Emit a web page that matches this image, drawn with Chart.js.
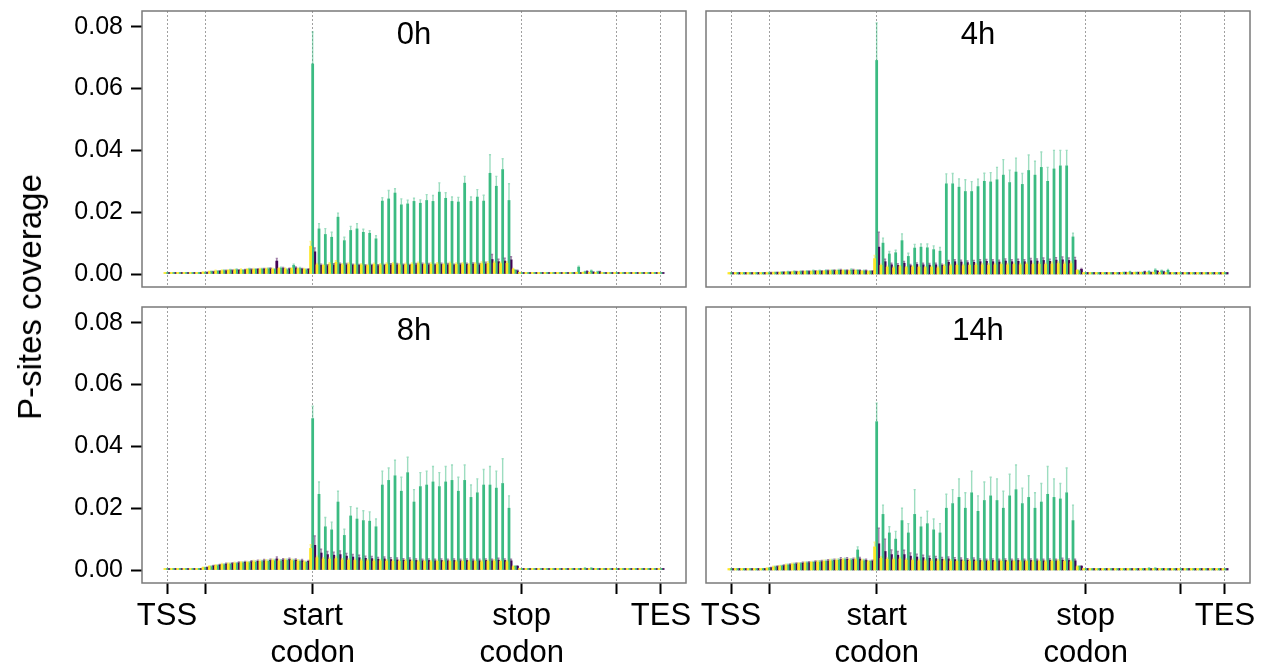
<!DOCTYPE html>
<html>
<head>
<meta charset="utf-8">
<script src="https://cdn.jsdelivr.net/npm/chart.js@4.4.0/dist/chart.umd.min.js"></script>
<style>
  html, body { margin: 0; padding: 0; background: #fff; }
  #wrap { position: relative; width: 1265px; height: 671px; overflow: hidden; }
  #wrap canvas { position: absolute; left: -40px; top: -30px; }
  #ylab { position: absolute; left: 30px; top: 297px; font-family: "Liberation Sans", Arial, sans-serif; font-size: 33px; color: #000; white-space: nowrap; transform: translate(-50%, -50%) rotate(-90deg); }
</style>
</head>
<body>
<div id="wrap">
  <canvas id="c0" width="1345" height="731"></canvas>
  <canvas id="c1" width="1345" height="731"></canvas>
  <canvas id="c2" width="1345" height="731"></canvas>
  <canvas id="c3" width="1345" height="731"></canvas>
  <div id="ylab">P-sites coverage</div>
</div>
<script>
// bins: 0 = TSS, 6 = 5'UTR start, 23 = start codon, 56 = stop codon, 71 = 3'UTR end, 78 = TES
const tickPos = [0, 6, 23, 56, 71, 78]
const tickLabels = ["TSS", "", ["start", "codon"], ["stop", "codon"], "", "TES"]
const yTicks = [0, 0.02, 0.04, 0.06, 0.08]
const titles = ["0h", "4h", "8h", "14h"]

// ---- 0h ----
const yel0 = [0.0005,0.0005,0.0005,0.0005,0.0005,0.0005, 0.0006,0.0008,0.0010,0.0011,0.0012,0.0013,0.0014,0.0015,0.0015,0.0016,0.0017,0.0016,0.0018,0.0017,0.0018,0.0017,0.0016, 0.0090, 0.0030,0.0028,0.0033,0.0038,0.0030,0.0032,0.0029,0.0030,0.0028,0.0031,0.0030,0.0032,0.0033,0.0030,0.0031,0.0032,0.0034,0.0031,0.0032,0.0033,0.0031,0.0034,0.0032,0.0033,0.0030,0.0033,0.0034,0.0035,0.0036,0.0034,0.0035,0.0016, 0.0006,0.0005,0.0005,0.0005,0.0005,0.0005,0.0005,0.0005,0.0005,0.0006,0.0006,0.0006,0.0005,0.0005,0.0005, 0.0005,0.0005,0.0005,0.0005,0.0005,0.0005,0.0005,0.0005]
const grn0 = [0.0005,0.0005,0.0005,0.0005,0.0005,0.0005, 0.0005,0.0008,0.0009,0.0011,0.0013,0.0014,0.0012,0.0016,0.0015,0.0016,0.0017,0.0015,0.0019,0.0014,0.0028,0.0018,0.0014, 0.0680, 0.0146,0.0128,0.0119,0.0184,0.0108,0.0141,0.0146,0.0135,0.0132,0.0114,0.0236,0.0243,0.0262,0.0224,0.0227,0.0235,0.0229,0.0238,0.0235,0.0265,0.0245,0.0235,0.0233,0.0294,0.0235,0.0249,0.0236,0.0326,0.0284,0.0338,0.0238,0.0012, 0.0005,0.0005,0.0005,0.0005,0.0005,0.0005,0.0005,0.0005,0.0005,0.0022,0.0007,0.0010,0.0007,0.0005,0.0005, 0.0005,0.0005,0.0005,0.0005,0.0005,0.0005,0.0005,0.0005]
const pur0 = [0.0005,0.0005,0.0005,0.0005,0.0005,0.0005, 0.0005,0.0007,0.0009,0.0010,0.0011,0.0012,0.0013,0.0014,0.0015,0.0016,0.0017,0.0042,0.0018,0.0017,0.0020,0.0016,0.0015, 0.0072, 0.0028,0.0027,0.0029,0.0031,0.0030,0.0029,0.0028,0.0027,0.0028,0.0027,0.0028,0.0029,0.0030,0.0029,0.0028,0.0030,0.0031,0.0030,0.0029,0.0031,0.0030,0.0029,0.0030,0.0031,0.0032,0.0030,0.0033,0.0047,0.0040,0.0042,0.0046,0.0010, 0.0005,0.0005,0.0005,0.0005,0.0005,0.0005,0.0005,0.0005,0.0005,0.0005,0.0008,0.0006,0.0007,0.0005,0.0005, 0.0005,0.0005,0.0005,0.0005,0.0005,0.0005,0.0005,0.0005]
const yelErr0 = [0,0,0,0,0,0, 0.0001,0.0001,0.0002,0.0002,0.0002,0.0002,0.0002,0.0002,0.0003,0.0002,0.0002,0.0003,0.0002,0.0003,0.0002,0.0002,0.0002, 0.0015, 0.0004,0.0003,0.0004,0.0005,0.0003,0.0004,0.0003,0.0003,0.0003,0.0004,0.0003,0.0004,0.0004,0.0003,0.0004,0.0004,0.0004,0.0003,0.0004,0.0004,0.0003,0.0004,0.0004,0.0004,0.0003,0.0004,0.0005,0.0005,0.0005,0.0004,0.0005,0.0002, 0,0,0,0,0,0,0,0,0,0,0,0,0,0,0, 0,0,0,0,0,0,0,0]
const grnErr0 = [0,0,0,0,0,0, 0.0001,0.0001,0.0002,0.0002,0.0002,0.0002,0.0002,0.0002,0.0002,0.0002,0.0003,0.0002,0.0003,0.0002,0.0004,0.0003,0.0002, 0.0103, 0.0017,0.0019,0.0016,0.0013,0.0011,0.0013,0.0017,0.0010,0.0008,0.0010,0.0011,0.0027,0.0014,0.0019,0.0012,0.0010,0.0011,0.0019,0.0019,0.0030,0.0018,0.0014,0.0015,0.0022,0.0014,0.0024,0.0019,0.0060,0.0032,0.0035,0.0054,0.0002, 0,0,0,0,0,0,0,0,0,0.0003,0.0001,0.0002,0.0001,0,0, 0,0,0,0,0,0,0,0]
const purErr0 = [0,0,0,0,0,0, 0.0001,0.0001,0.0002,0.0002,0.0002,0.0002,0.0002,0.0002,0.0002,0.0002,0.0003,0.0008,0.0003,0.0002,0.0003,0.0002,0.0002, 0.0012, 0.0004,0.0003,0.0004,0.0004,0.0004,0.0003,0.0003,0.0003,0.0003,0.0003,0.0003,0.0004,0.0004,0.0003,0.0003,0.0004,0.0004,0.0004,0.0003,0.0004,0.0004,0.0003,0.0004,0.0004,0.0004,0.0004,0.0005,0.0016,0.0008,0.0009,0.0010,0.0002, 0,0,0,0,0,0,0,0,0,0,0.0002,0.0001,0.0001,0,0, 0,0,0,0,0,0,0,0]

// ---- 4h ----
const yel1 = [0.0005,0.0005,0.0005,0.0005,0.0005,0.0005, 0.0004,0.0005,0.0005,0.0006,0.0007,0.0007,0.0008,0.0008,0.0009,0.0009,0.0010,0.0010,0.0011,0.0010,0.0011,0.0009,0.0008, 0.0050, 0.0028,0.0022,0.0020,0.0024,0.0021,0.0023,0.0022,0.0021,0.0022,0.0020,0.0026,0.0027,0.0028,0.0027,0.0028,0.0029,0.0030,0.0029,0.0030,0.0031,0.0030,0.0031,0.0030,0.0032,0.0031,0.0032,0.0031,0.0033,0.0034,0.0033,0.0034,0.0012, 0.0005,0.0005,0.0005,0.0005,0.0005,0.0005,0.0005,0.0005,0.0006,0.0006,0.0005,0.0006,0.0005,0.0005,0.0005, 0.0005,0.0005,0.0005,0.0005,0.0005,0.0005,0.0005,0.0005]
const grn1 = [0.0005,0.0005,0.0005,0.0005,0.0005,0.0005, 0.0004,0.0005,0.0006,0.0007,0.0008,0.0008,0.0009,0.0010,0.0010,0.0011,0.0011,0.0012,0.0011,0.0013,0.0012,0.0010,0.0009, 0.0691, 0.0100,0.0065,0.0069,0.0108,0.0057,0.0084,0.0087,0.0085,0.0079,0.0074,0.0292,0.0292,0.0281,0.0267,0.0267,0.0283,0.0300,0.0298,0.0305,0.0320,0.0296,0.0330,0.0290,0.0335,0.0320,0.0345,0.0300,0.0340,0.0350,0.0350,0.0120,0.0010, 0.0005,0.0005,0.0005,0.0005,0.0005,0.0005,0.0006,0.0007,0.0006,0.0006,0.0008,0.0013,0.0010,0.0012,0.0005, 0.0005,0.0005,0.0005,0.0005,0.0005,0.0005,0.0005,0.0005]
const pur1 = [0.0005,0.0005,0.0005,0.0005,0.0005,0.0005, 0.0004,0.0005,0.0006,0.0006,0.0007,0.0008,0.0008,0.0009,0.0009,0.0010,0.0011,0.0012,0.0011,0.0012,0.0011,0.0010,0.0009, 0.0087, 0.0040,0.0030,0.0028,0.0035,0.0027,0.0031,0.0030,0.0029,0.0030,0.0028,0.0038,0.0040,0.0039,0.0037,0.0038,0.0040,0.0041,0.0040,0.0039,0.0042,0.0040,0.0041,0.0040,0.0043,0.0042,0.0044,0.0041,0.0045,0.0046,0.0044,0.0045,0.0015, 0.0005,0.0005,0.0005,0.0005,0.0005,0.0005,0.0006,0.0005,0.0006,0.0007,0.0006,0.0009,0.0007,0.0005,0.0005, 0.0005,0.0005,0.0005,0.0005,0.0005,0.0005,0.0005,0.0005]
const yelErr1 = [0,0,0,0,0,0, 0.0001,0.0001,0.0001,0.0001,0.0001,0.0001,0.0002,0.0002,0.0002,0.0002,0.0002,0.0002,0.0002,0.0002,0.0002,0.0002,0.0002, 0.0010, 0.0004,0.0003,0.0003,0.0003,0.0003,0.0003,0.0003,0.0003,0.0003,0.0003,0.0004,0.0004,0.0004,0.0004,0.0004,0.0004,0.0004,0.0004,0.0004,0.0004,0.0004,0.0004,0.0004,0.0004,0.0004,0.0004,0.0004,0.0005,0.0005,0.0005,0.0005,0.0002, 0,0,0,0,0,0,0,0,0,0,0,0,0,0,0, 0,0,0,0,0,0,0,0]
const grnErr1 = [0,0,0,0,0,0, 0.0001,0.0001,0.0001,0.0001,0.0002,0.0002,0.0002,0.0002,0.0002,0.0002,0.0002,0.0003,0.0002,0.0003,0.0002,0.0002,0.0002, 0.0121, 0.0016,0.0008,0.0008,0.0022,0.0010,0.0012,0.0010,0.0012,0.0012,0.0012,0.0032,0.0033,0.0027,0.0038,0.0032,0.0024,0.0026,0.0030,0.0040,0.0050,0.0040,0.0045,0.0035,0.0050,0.0045,0.0050,0.0045,0.0060,0.0050,0.0050,0.0012,0.0002, 0,0,0,0,0,0,0,0.0001,0,0,0.0002,0.0003,0.0002,0.0003,0, 0,0,0,0,0,0,0,0]
const purErr1 = [0,0,0,0,0,0, 0.0001,0.0001,0.0001,0.0001,0.0001,0.0002,0.0002,0.0002,0.0002,0.0002,0.0002,0.0003,0.0002,0.0003,0.0002,0.0002,0.0002, 0.0048, 0.0008,0.0005,0.0005,0.0006,0.0004,0.0005,0.0005,0.0005,0.0005,0.0004,0.0006,0.0006,0.0006,0.0005,0.0006,0.0006,0.0006,0.0006,0.0006,0.0007,0.0006,0.0007,0.0006,0.0007,0.0007,0.0008,0.0007,0.0008,0.0009,0.0008,0.0009,0.0003, 0,0,0,0,0,0,0,0,0,0.0001,0,0.0002,0.0001,0,0, 0,0,0,0,0,0,0,0]

// ---- 8h ----
const yel2 = [0.0005,0.0005,0.0005,0.0005,0.0005,0.0005, 0.0008,0.0012,0.0015,0.0018,0.0020,0.0022,0.0024,0.0025,0.0027,0.0028,0.0029,0.0031,0.0030,0.0032,0.0031,0.0029,0.0026, 0.0070, 0.0040,0.0036,0.0035,0.0037,0.0033,0.0032,0.0031,0.0030,0.0030,0.0029,0.0030,0.0029,0.0028,0.0028,0.0029,0.0028,0.0027,0.0028,0.0027,0.0028,0.0027,0.0028,0.0027,0.0028,0.0027,0.0028,0.0027,0.0028,0.0029,0.0028,0.0027,0.0011, 0.0005,0.0005,0.0005,0.0005,0.0005,0.0005,0.0005,0.0005,0.0005,0.0005,0.0005,0.0005,0.0005,0.0005,0.0005, 0.0005,0.0005,0.0005,0.0005,0.0005,0.0005,0.0005,0.0005]
const grn2 = [0.0005,0.0005,0.0005,0.0005,0.0005,0.0005, 0.0007,0.0011,0.0014,0.0017,0.0019,0.0021,0.0023,0.0024,0.0025,0.0027,0.0028,0.0030,0.0029,0.0031,0.0030,0.0028,0.0025, 0.0490, 0.0245,0.0140,0.0130,0.0220,0.0112,0.0175,0.0165,0.0160,0.0158,0.0140,0.0275,0.0290,0.0305,0.0255,0.0315,0.0220,0.0270,0.0275,0.0285,0.0270,0.0285,0.0290,0.0255,0.0290,0.0235,0.0250,0.0275,0.0275,0.0265,0.0280,0.0200,0.0012, 0.0005,0.0005,0.0005,0.0005,0.0005,0.0005,0.0005,0.0005,0.0005,0.0005,0.0006,0.0006,0.0005,0.0005,0.0005, 0.0005,0.0005,0.0005,0.0005,0.0005,0.0005,0.0005,0.0005]
const pur2 = [0.0005,0.0005,0.0005,0.0005,0.0005,0.0005, 0.0008,0.0013,0.0016,0.0019,0.0021,0.0023,0.0025,0.0027,0.0028,0.0030,0.0031,0.0036,0.0033,0.0034,0.0032,0.0030,0.0028, 0.0080, 0.0055,0.0050,0.0048,0.0050,0.0045,0.0042,0.0040,0.0038,0.0037,0.0035,0.0036,0.0034,0.0033,0.0032,0.0033,0.0031,0.0030,0.0031,0.0030,0.0031,0.0030,0.0031,0.0030,0.0031,0.0030,0.0030,0.0031,0.0030,0.0032,0.0031,0.0030,0.0012, 0.0005,0.0005,0.0005,0.0005,0.0005,0.0005,0.0005,0.0005,0.0005,0.0005,0.0005,0.0005,0.0005,0.0005,0.0005, 0.0005,0.0005,0.0005,0.0005,0.0005,0.0005,0.0005,0.0005]
const yelErr2 = [0,0,0,0,0,0, 0.0001,0.0002,0.0002,0.0003,0.0003,0.0003,0.0003,0.0003,0.0004,0.0004,0.0004,0.0004,0.0004,0.0004,0.0004,0.0004,0.0003, 0.0012, 0.0005,0.0004,0.0004,0.0005,0.0004,0.0004,0.0004,0.0004,0.0004,0.0004,0.0004,0.0004,0.0004,0.0004,0.0004,0.0004,0.0004,0.0004,0.0004,0.0004,0.0004,0.0004,0.0004,0.0004,0.0004,0.0004,0.0004,0.0004,0.0004,0.0004,0.0004,0.0002, 0,0,0,0,0,0,0,0,0,0,0,0,0,0,0, 0,0,0,0,0,0,0,0]
const grnErr2 = [0,0,0,0,0,0, 0.0001,0.0002,0.0002,0.0003,0.0003,0.0003,0.0003,0.0003,0.0004,0.0004,0.0004,0.0004,0.0004,0.0004,0.0004,0.0004,0.0003, 0.0040, 0.0040,0.0030,0.0025,0.0035,0.0020,0.0030,0.0035,0.0032,0.0030,0.0025,0.0045,0.0040,0.0050,0.0045,0.0050,0.0040,0.0045,0.0045,0.0050,0.0045,0.0050,0.0050,0.0045,0.0050,0.0040,0.0045,0.0050,0.0060,0.0055,0.0080,0.0040,0.0002, 0,0,0,0,0,0,0,0,0,0,0.0001,0.0001,0,0,0, 0,0,0,0,0,0,0,0]
const purErr2 = [0,0,0,0,0,0, 0.0001,0.0002,0.0002,0.0003,0.0003,0.0003,0.0003,0.0003,0.0004,0.0004,0.0004,0.0006,0.0004,0.0004,0.0004,0.0004,0.0003, 0.0030, 0.0012,0.0010,0.0010,0.0012,0.0009,0.0008,0.0008,0.0007,0.0007,0.0006,0.0006,0.0006,0.0006,0.0005,0.0006,0.0005,0.0005,0.0005,0.0005,0.0005,0.0005,0.0005,0.0005,0.0005,0.0005,0.0005,0.0005,0.0005,0.0006,0.0005,0.0005,0.0002, 0,0,0,0,0,0,0,0,0,0,0,0,0,0,0, 0,0,0,0,0,0,0,0]

// ---- 14h ----
const yel3 = [0.0005,0.0005,0.0005,0.0005,0.0005,0.0005, 0.0006,0.0010,0.0013,0.0016,0.0019,0.0021,0.0023,0.0025,0.0026,0.0028,0.0030,0.0031,0.0033,0.0032,0.0034,0.0030,0.0027, 0.0075, 0.0038,0.0035,0.0034,0.0036,0.0032,0.0031,0.0030,0.0030,0.0029,0.0029,0.0030,0.0029,0.0028,0.0028,0.0029,0.0028,0.0027,0.0028,0.0027,0.0028,0.0027,0.0028,0.0027,0.0028,0.0027,0.0028,0.0027,0.0028,0.0029,0.0028,0.0027,0.0011, 0.0005,0.0005,0.0005,0.0005,0.0005,0.0005,0.0005,0.0005,0.0005,0.0005,0.0005,0.0005,0.0005,0.0005,0.0005, 0.0005,0.0005,0.0005,0.0005,0.0005,0.0005,0.0005,0.0005]
const grn3 = [0.0005,0.0005,0.0005,0.0005,0.0005,0.0005, 0.0006,0.0010,0.0013,0.0016,0.0019,0.0021,0.0023,0.0025,0.0026,0.0028,0.0030,0.0032,0.0034,0.0033,0.0065,0.0030,0.0028, 0.0480, 0.0180,0.0120,0.0100,0.0160,0.0120,0.0180,0.0140,0.0150,0.0130,0.0120,0.0200,0.0215,0.0235,0.0200,0.0250,0.0190,0.0225,0.0240,0.0225,0.0200,0.0240,0.0260,0.0215,0.0235,0.0200,0.0220,0.0245,0.0235,0.0230,0.0250,0.0160,0.0012, 0.0005,0.0005,0.0005,0.0005,0.0005,0.0005,0.0005,0.0005,0.0005,0.0005,0.0006,0.0006,0.0005,0.0005,0.0005, 0.0005,0.0005,0.0005,0.0005,0.0005,0.0005,0.0005,0.0005]
const pur3 = [0.0005,0.0005,0.0005,0.0005,0.0005,0.0005, 0.0007,0.0011,0.0014,0.0017,0.0020,0.0022,0.0024,0.0026,0.0027,0.0029,0.0031,0.0034,0.0035,0.0034,0.0036,0.0031,0.0029, 0.0085, 0.0060,0.0050,0.0048,0.0050,0.0045,0.0042,0.0040,0.0038,0.0037,0.0035,0.0036,0.0034,0.0033,0.0032,0.0033,0.0031,0.0030,0.0031,0.0030,0.0031,0.0030,0.0031,0.0030,0.0031,0.0030,0.0030,0.0031,0.0030,0.0032,0.0031,0.0030,0.0012, 0.0005,0.0005,0.0005,0.0005,0.0005,0.0005,0.0005,0.0005,0.0005,0.0005,0.0005,0.0005,0.0005,0.0005,0.0005, 0.0005,0.0005,0.0005,0.0005,0.0005,0.0005,0.0005,0.0005]
const yelErr3 = [0,0,0,0,0,0, 0.0001,0.0002,0.0002,0.0003,0.0003,0.0003,0.0003,0.0003,0.0004,0.0004,0.0004,0.0004,0.0004,0.0004,0.0004,0.0004,0.0003, 0.0015, 0.0005,0.0004,0.0004,0.0005,0.0004,0.0004,0.0004,0.0004,0.0004,0.0004,0.0004,0.0004,0.0004,0.0004,0.0004,0.0004,0.0004,0.0004,0.0004,0.0004,0.0004,0.0004,0.0004,0.0004,0.0004,0.0004,0.0004,0.0004,0.0004,0.0004,0.0004,0.0002, 0,0,0,0,0,0,0,0,0,0,0,0,0,0,0, 0,0,0,0,0,0,0,0]
const grnErr3 = [0,0,0,0,0,0, 0.0001,0.0002,0.0002,0.0003,0.0003,0.0003,0.0003,0.0003,0.0004,0.0004,0.0004,0.0004,0.0004,0.0004,0.0010,0.0004,0.0003, 0.0060, 0.0030,0.0020,0.0025,0.0040,0.0030,0.0080,0.0030,0.0040,0.0035,0.0030,0.0045,0.0045,0.0060,0.0050,0.0070,0.0050,0.0060,0.0060,0.0070,0.0055,0.0070,0.0080,0.0050,0.0070,0.0050,0.0060,0.0090,0.0060,0.0050,0.0080,0.0050,0.0002, 0,0,0,0,0,0,0,0,0,0,0.0001,0.0001,0,0,0, 0,0,0,0,0,0,0,0]
const purErr3 = [0,0,0,0,0,0, 0.0001,0.0002,0.0002,0.0003,0.0003,0.0003,0.0003,0.0003,0.0004,0.0004,0.0004,0.0006,0.0005,0.0004,0.0005,0.0004,0.0003, 0.0050, 0.0040,0.0015,0.0012,0.0014,0.0010,0.0009,0.0008,0.0007,0.0007,0.0006,0.0006,0.0006,0.0006,0.0005,0.0006,0.0005,0.0005,0.0005,0.0005,0.0005,0.0005,0.0005,0.0005,0.0005,0.0005,0.0005,0.0005,0.0005,0.0006,0.0005,0.0005,0.0002, 0,0,0,0,0,0,0,0,0,0,0,0,0,0,0, 0,0,0,0,0,0,0,0]

const panelData = [
  { yel: yel0, grn: grn0, pur: pur0, yelErr: yelErr0, grnErr: grnErr0, purErr: purErr0 },
  { yel: yel1, grn: grn1, pur: pur1, yelErr: yelErr1, grnErr: grnErr1, purErr: purErr1 },
  { yel: yel2, grn: grn2, pur: pur2, yelErr: yelErr2, grnErr: grnErr2, purErr: purErr2 },
  { yel: yel3, grn: grn3, pur: pur3, yelErr: yelErr3, grnErr: grnErr3, purErr: purErr3 },
]

// plot area of each facet, in page pixels
const boxes = [
  { l: 142, r: 686, t: 11, b: 287 },
  { l: 706, r: 1250, t: 11, b: 287 },
  { l: 142, r: 686, t: 307, b: 583 },
  { l: 706, r: 1250, t: 307, b: 583 },
]
// canvases sit at (-40, -30) and are 1345 x 731
const OFF_X = 40, OFF_Y = 30, CW = 1345, CH = 731

const FONT = "'Liberation Sans', Arial, Helvetica, sans-serif"
Chart.defaults.font.family = FONT
Chart.defaults.color = "#000"

const errorBars = {
  id: "errorBars",
  afterDatasetsDraw(chart) {
    const ctx = chart.ctx
    const ys = chart.scales.y
    const area = chart.chartArea
    ctx.save()
    ctx.beginPath()
    ctx.rect(area.left, area.top, area.right - area.left, area.bottom - area.top)
    ctx.clip()
    chart.data.datasets.forEach((ds, i) => {
      const meta = chart.getDatasetMeta(i)
      ctx.strokeStyle = ds.errColor
      ctx.lineWidth = 1.4
      meta.data.forEach((bar, j) => {
        const e = ds.err[j]
        if (!e) return
        const top = ys.getPixelForValue(ds.data[j].y + e)
        const half = bar.width / 2
        ctx.beginPath()
        ctx.moveTo(bar.x, bar.y)
        ctx.lineTo(bar.x, top)
        ctx.moveTo(bar.x - half, top)
        ctx.lineTo(bar.x + half, top)
        ctx.stroke()
      })
    })
    ctx.restore()
  }
}

const frame = {
  id: "frame",
  afterDraw(chart, args, opts) {
    const ctx = chart.ctx
    const a = chart.chartArea
    ctx.save()
    ctx.strokeStyle = "#7a7a7a"
    ctx.lineWidth = 1.5
    ctx.strokeRect(a.left, a.top, a.right - a.left, a.bottom - a.top)
    ctx.fillStyle = "#000"
    ctx.font = "31px " + FONT
    ctx.textAlign = "center"
    ctx.textBaseline = "alphabetic"
    ctx.fillText(opts.title, (a.left + a.right) / 2, a.top + 33)
    ctx.restore()
  }
}

function makeSet(label, values, errs, color, errColor) {
  return {
    label: label,
    data: values.map((v, i) => ({ x: i, y: v })),
    err: errs,
    backgroundColor: color,
    errColor: errColor,
    borderWidth: 0,
    categoryPercentage: 1.0,
    barPercentage: 1.0,
  }
}

panelData.forEach((pd, k) => {
  const box = boxes[k]
  const isLeft = k % 2 === 0
  const isBottom = k >= 2
  const yW = isLeft ? 100 : 0
  const xH = isBottom ? 88 : 0
  new Chart(document.getElementById("c" + k), {
    type: "bar",
    data: {
      datasets: [
        makeSet("a", pd.yel, pd.yelErr, "#FDE725", "rgba(253,231,37,0.55)"),
        makeSet("b", pd.grn, pd.grnErr, "#3BBB82", "rgba(59,187,130,0.5)"),
        makeSet("c", pd.pur, pd.purErr, "#440154", "rgba(68,1,84,0.5)"),
      ]
    },
    options: {
      responsive: false,
      animation: false,
      devicePixelRatio: 1,
      layout: {
        padding: {
          left: box.l + OFF_X - yW,
          right: CW - OFF_X - box.r,
          top: box.t + OFF_Y,
          bottom: CH - OFF_Y - box.b - xH,
        }
      },
      plugins: {
        legend: { display: false },
        tooltip: { enabled: false },
        frame: { title: titles[k] },
      },
      scales: {
        x: {
          type: "linear",
          min: -3.95,
          max: 81.95,
          bounds: "data",
          offset: false,
          afterBuildTicks: (s) => { s.ticks = tickPos.map((v) => ({ value: v })) },
          afterFit: (s) => { s.height = xH },
          grid: {
            offset: false,
            color: "#a0a0a0",
            lineWidth: 1,
            drawTicks: isBottom,
            tickLength: 11,
            tickWidth: 2,
            tickColor: "#000",
          },
          border: { display: false, dash: [2, 2] },
          ticks: {
            display: isBottom,
            autoSkip: false,
            maxRotation: 0,
            minRotation: 0,
            padding: 4,
            font: { size: 31, lineHeight: 1.2 },
            callback: (v, i) => tickLabels[i],
          },
        },
        y: {
          display: isLeft,
          min: -0.0042,
          max: 0.0851,
          bounds: "data",
          afterBuildTicks: (s) => { s.ticks = yTicks.map((v) => ({ value: v })) },
          afterFit: (s) => { s.width = yW },
          grid: {
            drawOnChartArea: false,
            drawTicks: true,
            tickLength: 11,
            tickWidth: 2,
            tickColor: "#000",
          },
          border: { display: false },
          ticks: {
            padding: 8,
            font: { size: 25 },
            callback: (v) => v.toFixed(2),
          },
        },
      },
    },
    plugins: [errorBars, frame],
  })
})
</script>
</body>
</html>
